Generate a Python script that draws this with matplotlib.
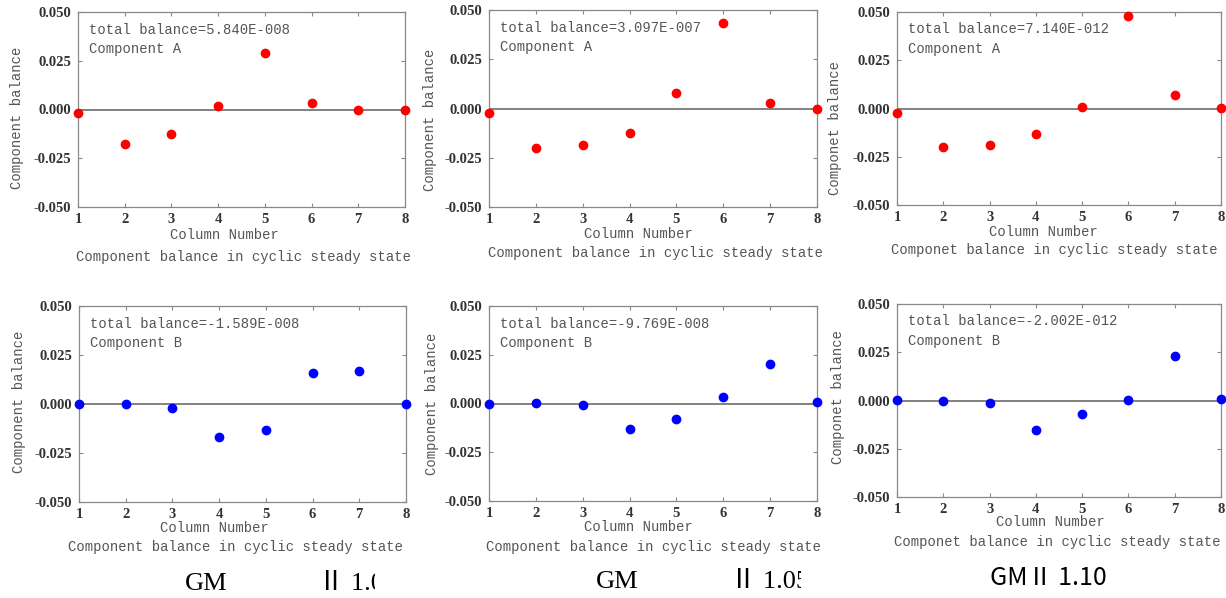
import numpy as np
import matplotlib as mpl
mpl.use("agg")
import matplotlib.pyplot as plt
from matplotlib.transforms import Bbox, TransformedBbox

# data
columns = [1, 2, 3, 4, 5, 6, 7, 8]
a_100 = [-0.0020, -0.0176, -0.0128, 0.0017, 0.0288, 0.0033, 0.0000, 0.0000]
a_105 = [-0.0024, -0.0198, -0.0186, -0.0122, 0.0078, 0.0436, 0.0030, 0.0000]
a_110 = [-0.0022, -0.0200, -0.0188, -0.0134, 0.0010, 0.0480, 0.0072, 0.0002]
b_100 = [0.0000, 0.0000, -0.0019, -0.0168, -0.0133, 0.0156, 0.0170, 0.0002]
b_105 = [0.0000, 0.0002, -0.0010, -0.0133, -0.0082, 0.0034, 0.0204, 0.0007]
b_110 = [0.0002, 0.0000, -0.0012, -0.0152, -0.0069, 0.0003, 0.0232, 0.0009]
totals = ["5.840E-008", "3.097E-007", "7.140E-012", "-1.589E-008", "-9.769E-008", "-2.002E-012"]
yticks = [-0.05, -0.025, 0.0, 0.025, 0.05]
ytick_labels = ["-0.050", "-0.025", "0.000", "0.025", "0.050"]

W, H = 1226, 598
fig = plt.figure(figsize=(W / 100, H / 100), dpi=100)
fig.patch.set_facecolor("white")

mono = "Liberation Mono"
serif = "Liberation Serif"
txtcol = "#555555"

def px(x, y):
    return x / W, 1 - y / H

def clipx(t, xmax):
    t.set_clip_box(TransformedBbox(Bbox.from_extents(0, 0, xmax / W, 1), fig.transFigure))
    t.set_clip_on(True)

# pixel boxes: left, right, top, bottom
panels = [
    (78, 405, 12, 207, a_100, "red", "Component A", "Component"),
    (489, 817, 10, 207, a_105, "red", "Component A", "Component"),
    (897, 1221, 12, 205, a_110, "red", "Component A", "Componet"),
    (79, 406, 306, 502, b_100, "blue", "Component B", "Component"),
    (489, 817, 306, 501, b_105, "blue", "Component B", "Component"),
    (897, 1221, 304, 497, b_110, "blue", "Component B", "Componet"),
]
# label positions (pixels): ylabel x,y ; xlabel x,y ; caption x,y ; caption clip
labelpos = [
    (17, 118, 224, 235, 243, 257, None),
    (430, 120, 638, 234, 655, 253, 826),
    (835, 128, 1043, 232, 1054, 250, None),
    (19, 402, 214, 528, 236, 547, None),
    (432, 404, 638, 527, 654, 547, None),
    (838, 397, 1050, 522, 1057, 542, None),
]

for i, p in enumerate(panels):
    l, r, t, b, vals, col, comp, word = p
    ax = fig.add_axes([l / W, 1 - b / H, (r - l) / W, (b - t) / H])
    ax.axhline(0, color="#777777", lw=1.3, zorder=1)
    ax.plot(columns, vals, "o", color=col, ms=6, clip_on=False, zorder=3)
    ax.set_xlim(1, 8)
    ax.set_ylim(-0.05, 0.05)
    ax.set_xticks(columns)
    ax.set_xticklabels([str(c) for c in columns], fontfamily=serif, fontweight="bold", fontsize=10.5)
    ax.set_yticks(yticks)
    ax.set_yticklabels(ytick_labels, fontfamily=serif, fontweight="bold", fontsize=10.5)
    ax.tick_params(direction="in", top=True, right=True, length=3, width=0.8, colors="#888888")
    ax.tick_params(axis="y", pad=5)
    ax.tick_params(axis="x", pad=4)
    for lab in ax.get_xticklabels() + ax.get_yticklabels():
        lab.set_color("#333333")
    for s in ax.spines.values():
        s.set_color("#888888")
        s.set_linewidth(0.9)
    ax.text(0.035, 0.91, "total balance=" + totals[i], transform=ax.transAxes, fontfamily=mono,
            fontsize=10, color=txtcol, va="center")
    ax.text(0.035, 0.81, comp, transform=ax.transAxes, fontfamily=mono, fontsize=10, color=txtcol, va="center")

    yx, yy, xx, xy, cx, cy, clip = labelpos[i]
    fig.text(*px(yx, yy), word + " balance", rotation=90, ha="center", va="center",
             fontfamily=mono, fontsize=10, color=txtcol)
    fig.text(*px(xx, xy), "Column Number", ha="center", va="center", fontfamily=mono, fontsize=10, color=txtcol)
    cap = fig.text(*px(cx, cy), word + " balance in cyclic steady state", ha="center", va="center",
                   fontfamily=mono, fontsize=10, color=txtcol)
    if clip:
        clipx(cap, clip)

# figure captions under each column
big = [serif, "Noto Sans CJK SC"]
fig.text(*px(185, 584), "GM", ha="left", va="center", fontfamily=big, fontsize=19, color="black")
t1 = fig.text(*px(318, 584), "Ⅱ 1.00", ha="left", va="center", fontfamily=big, fontsize=19, color="black")
clipx(t1, 375)
fig.text(*px(596, 582), "GM", ha="left", va="center", fontfamily=big, fontsize=19, color="black")
t2 = fig.text(*px(730, 582), "Ⅱ 1.05", ha="left", va="center", fontfamily=big, fontsize=19, color="black")
clipx(t2, 801)
fig.text(*px(1048, 578), "GMⅡ 1.10", ha="center", va="center", fontfamily=["Noto Sans CJK SC"], fontsize=18,
         color="black")

plt.savefig("out.png", dpi=100)
